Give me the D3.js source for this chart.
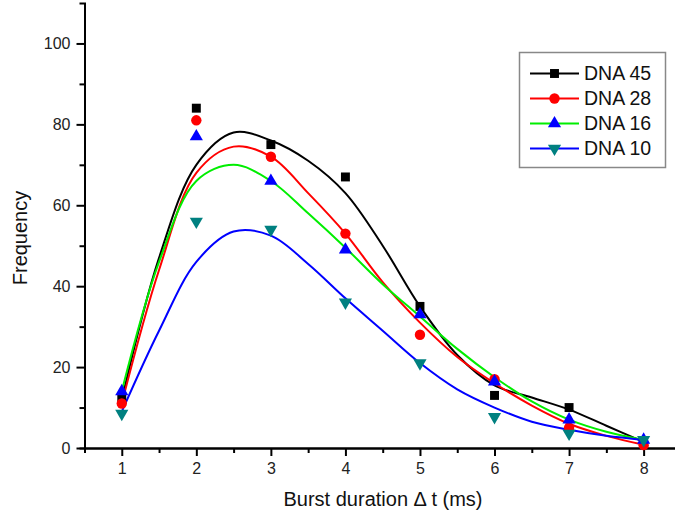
<!DOCTYPE html>
<html lang="en">
<head>
<meta charset="utf-8">
<title>Burst duration frequency</title>
<script src="https://cdn.jsdelivr.net/npm/d3@7"></script>
<style>
  body { margin: 0; background: #fff; }
  svg { display: block; font-family: "Liberation Sans", Arial, sans-serif; }
  .axis path, .axis line { stroke: #000; stroke-width: 2px; }
  .title { font-size: 20px; fill: #111; }
  .legtext { font-size: 19.5px; fill: #111; }
</style>
</head>
<body>
<svg id="chart" width="675" height="519"></svg>
<script>
// measured points (burst duration in ms)
var durations = [1, 2, 3, 4, 5, 6, 7, 8];
var dna45 = [12, 84, 75, 67, 35, 13, 10, 1];
var dna28 = [11, 81, 72, 53, 28, 17, 5, 0.7];
var dna16 = [14, 77, 66, 49, 33, 16.4, 7, 2];
var dna10 = [8.5, 56, 54, 36, 21, 7.7, 3.6, 2];

var fitX = [1, 1.5, 2, 2.5, 3, 3.5, 4, 4.5, 5, 5.5, 6, 6.5, 7, 7.5, 8];
var fit45 = [12, 47, 70, 78, 76, 71, 63, 50, 35, 23, 15.5, 12.5, 9.5, 5.5, 1.5];
var fit28 = [11, 44, 68, 74.5, 72, 63, 53, 41, 31, 22.5, 16, 10.5, 6, 3, 0.8];
var fit16 = [14, 46, 66, 70, 66, 58, 49.5, 40.5, 32.5, 24.5, 17.5, 11.5, 7, 4, 2];
var fit10 = [9, 29, 46, 53.5, 52.5, 45.5, 37, 29, 21, 14.5, 10, 6.5, 4.5, 3, 2];

var seriesNames = ["DNA 45", "DNA 28", "DNA 16", "DNA 10"];
var xTicks = [1, 2, 3, 4, 5, 6, 7, 8];
var yTicks = [0, 20, 40, 60, 80, 100];

var series = [
  {name: seriesNames[0], pts: dna45, fit: fit45, line: "#000000", mark: "#000000", shape: d3.symbolSquare, size: 80, rot: 0},
  {name: seriesNames[1], pts: dna28, fit: fit28, line: "#ff0000", mark: "#ff0000", shape: d3.symbolCircle, size: 85, rot: 0},
  {name: seriesNames[2], pts: dna16, fit: fit16, line: "#00ee00", mark: "#0000ff", shape: d3.symbolTriangle, size: 75, rot: 0},
  {name: seriesNames[3], pts: dna10, fit: fit10, line: "#0000ff", mark: "#008080", shape: d3.symbolTriangle, size: 75, rot: 180}
];

var svg = d3.select("#chart");
var plotLeft = 84.5, plotBottom = 448, plotTop = 3;

var x = d3.scaleLinear().domain([0.5, 8.5]).range([plotLeft, plotLeft + 8 * 74.55]);
var y = d3.scaleLinear().domain([0, 110]).range([plotBottom, plotTop]);

// minor ticks
var xMinor = d3.axisBottom(x).tickValues([1.5, 2.5, 3.5, 4.5, 5.5, 6.5, 7.5, 8.5]).tickSize(5).tickFormat("");
var yMinor = d3.axisLeft(y).tickValues([10, 30, 50, 70, 90]).tickSize(5).tickFormat("");

svg.append("g").attr("class", "axis").attr("transform", "translate(0," + plotBottom + ")").call(xMinor);
svg.append("g").attr("class", "axis").attr("transform", "translate(" + plotLeft + ",0)").call(yMinor);

var xAxis = svg.append("g").attr("class", "axis")
  .attr("transform", "translate(0," + plotBottom + ")")
  .call(d3.axisBottom(x).tickValues(xTicks).tickSize(8).tickPadding(6).tickSizeOuter(0));
var yAxis = svg.append("g").attr("class", "axis")
  .attr("transform", "translate(" + plotLeft + ",0)")
  .call(d3.axisLeft(y).tickValues(yTicks).tickSize(8).tickPadding(6).tickSizeOuter(0));

xAxis.selectAll("text").attr("font-size", 16).attr("fill", "#222").attr("dy", "0.75em");
yAxis.selectAll("text").attr("font-size", 16).attr("fill", "#222");

// curves
var line = d3.line()
  .x(function(d){ return x(d[0]); })
  .y(function(d){ return y(d[1]); })
  .curve(d3.curveCatmullRom.alpha(0.5));

series.forEach(function(s){
  svg.append("path")
    .datum(fitX.map(function(v, i){ return [v, s.fit[i]]; }))
    .attr("fill", "none")
    .attr("stroke", s.line)
    .attr("stroke-width", 2)
    .attr("d", line);
});

// markers
series.forEach(function(s){
  svg.append("g").selectAll("path")
    .data(durations.map(function(v, i){ return [v, s.pts[i]]; }))
    .enter()
    .append("path")
    .attr("d", d3.symbol().type(s.shape).size(s.size))
    .attr("fill", s.mark)
    .attr("transform", function(d){
      return "translate(" + x(d[0]) + "," + y(d[1]) + ") rotate(" + s.rot + ")";
    });
});

// axis titles
svg.append("text").attr("class", "title")
  .attr("text-anchor", "middle")
  .attr("transform", "translate(27,238) rotate(-90)")
  .text("Frequency");
svg.append("text").attr("class", "title")
  .attr("text-anchor", "middle")
  .attr("x", 383).attr("y", 506)
  .text("Burst duration \u0394 t (ms)");

// legend
var legend = svg.append("g");
legend.append("rect")
  .attr("x", 519.5).attr("y", 52.5)
  .attr("width", 146).attr("height", 115)
  .attr("fill", "#fff").attr("stroke", "#888").attr("stroke-width", 1.5);

series.forEach(function(s, i){
  var ry = 73.5 + i * 25;
  legend.append("line")
    .attr("x1", 530).attr("x2", 579).attr("y1", ry).attr("y2", ry)
    .attr("stroke", s.line).attr("stroke-width", 2);
  legend.append("path")
    .attr("d", d3.symbol().type(s.shape).size(s.size))
    .attr("fill", s.mark)
    .attr("transform", "translate(554.5," + ry + ") rotate(" + s.rot + ")");
  legend.append("text").attr("class", "legtext")
    .attr("x", 584).attr("y", ry).attr("dy", "0.35em")
    .text(s.name);
});
</script>
</body>
</html>
